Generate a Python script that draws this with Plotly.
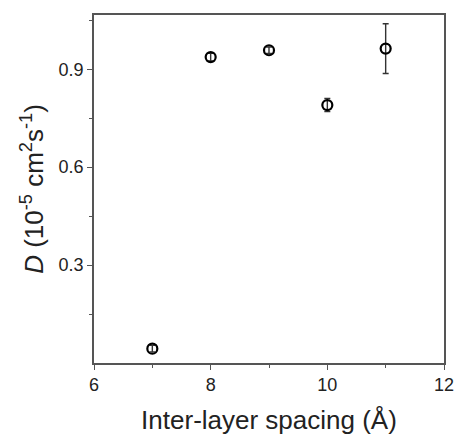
import plotly.graph_objects as go

spacing = [7, 8, 9, 10, 11]
D_vals = [0.044, 0.937, 0.958, 0.790, 0.963]
D_err = [0.010, 0.012, 0.010, 0.020, 0.076]

fig = go.Figure()
fig.add_trace(go.Scatter(
    x=spacing, y=D_vals, mode="markers",
    marker=dict(symbol="circle-open", size=10, color="black", line=dict(width=2.2)),
    error_y=dict(type="data", array=D_err, visible=True, color="#333", thickness=1.4, width=3),
    showlegend=False,
))

axis_common = dict(
    showline=True, linecolor="#555", linewidth=1.5, mirror=True,
    ticks="outside", tickcolor="#555", ticklen=5, tickwidth=1.3,
    showgrid=False, zeroline=False, automargin=False,
    tickfont=dict(family="Liberation Sans, Arial", size=18, color="#222"),
)

fig.update_xaxes(
    range=[6, 12], tickvals=[6, 8, 10, 12],
    minor=dict(tickvals=[7, 9, 11], ticks="outside", ticklen=3, tickcolor="#555", tickwidth=1.2),
    title=dict(text="Inter-layer spacing (Å)", font=dict(family="Liberation Sans, Arial", size=26, color="#222"), standoff=16),
    **axis_common,
)
fig.update_yaxes(
    range=[0, 1.066], tickvals=[0.3, 0.6, 0.9], ticktext=["0.3", "0.6", "0.9"],
    minor=dict(tickvals=[0.15, 0.45, 0.75, 1.05], ticks="outside", ticklen=3, tickcolor="#555", tickwidth=1.2),
    title=dict(text="<i>D</i> (10<sup>-5</sup> cm<sup>2</sup>s<sup>-1</sup>)", font=dict(family="Liberation Sans, Arial", size=26, color="#222"), standoff=8),
    **axis_common,
)

fig.update_layout(
    width=455, height=437,
    margin=dict(l=94, r=11, t=15, b=74),
    plot_bgcolor="white", paper_bgcolor="white",
)

fig.write_html("out.html")
